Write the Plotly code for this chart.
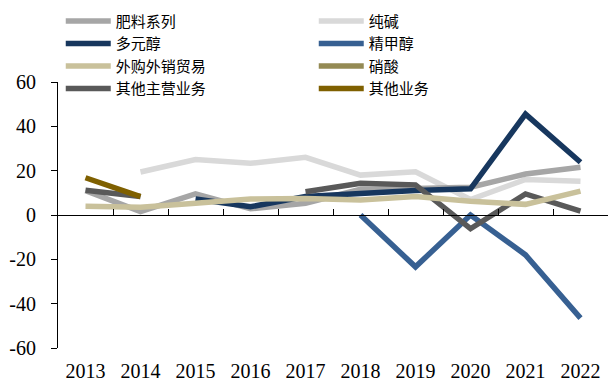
import plotly.graph_objects as go

years = ["2013", "2014", "2015", "2016", "2017", "2018", "2019", "2020", "2021", "2022"]

feiliao = [11, 1.5, 9.5, 2.8, 5.3, 11.6, 12, 12.5, 18.5, 21.5]
chunjian = [None, 19.4, 25, 23.3, 26, 18, 19.5, 7, 16, 15.2]
duoyuanchun = [None, None, 7.2, 3.7, 8.3, 9.8, 11, 11.8, 45.5, 23.8]
jingjiachun = [None, None, None, None, None, 0, -23.4, 0, -18, -46.5]
waigou = [3.9, 3.5, 5.3, 7.2, 7.5, 6.8, 8.3, 6.2, 4.8, 10.8]
xiaosuan = [None] * 10
qitazhuying = [11.2, 8.3, None, None, 10.5, 14.3, 13.6, -6.2, 9.5, 1.8]
qitayewu = [16.8, 8.3, None, None, None, None, None, None, None, None]

y_tickvals = [-60, -40, -20, 0, 20, 40, 60]
y_ticktext = ["-60", "-40", "-20", "0", "20", "40", "60"]

series = [
    ("肥料系列", feiliao, "#A6A6A6"),
    ("纯碱", chunjian, "#D9D9D9"),
    ("多元醇", duoyuanchun, "#17375E"),
    ("精甲醇", jingjiachun, "#376092"),
    ("外购外销贸易", waigou, "#C9C19B"),
    ("硝酸", xiaosuan, "#948A54"),
    ("其他主营业务", qitazhuying, "#595959"),
    ("其他业务", qitayewu, "#7F6000"),
]

draw_order = ["纯碱", "肥料系列", "精甲醇", "多元醇", "其他主营业务", "外购外销贸易", "硝酸", "其他业务"]

fig = go.Figure()
for name, vals, color in series:
    fig.add_trace(go.Scatter(
        x=years, y=vals, name=name, mode="lines",
        line=dict(color=color, width=5.5),
        connectgaps=False,
    ))

traces = list(fig.data)
for i, t in enumerate(traces):
    t.legendrank = i + 1
fig.data = tuple(sorted(traces, key=lambda t: draw_order.index(t.name)))

boundaries = [i - 0.5 for i in range(len(years) + 1)]
fig.add_trace(go.Scatter(x=[-0.5, 9.5], y=[0, 0], xaxis="x2", mode="lines",
                         line=dict(color="rgba(0,0,0,0)", width=0),
                         showlegend=False, hoverinfo="skip"))

fig.update_layout(
    width=613, height=383,
    margin=dict(l=58, r=5, t=82, b=35, autoexpand=False),
    paper_bgcolor="white", plot_bgcolor="white",
    font=dict(family="Liberation Serif, Times New Roman, Noto Sans CJK SC, serif", size=20, color="#000"),
    xaxis=dict(type="category", range=[-0.5, 9.5], showline=False, ticks="",
               showgrid=False, zeroline=False, tickfont=dict(size=20),
               ticklabelstandoff=9, automargin=False),
    xaxis2=dict(overlaying="x", anchor="free", position=0.5, range=[-0.5, 9.5],
                tickmode="array", tickvals=boundaries, showticklabels=False,
                ticks="inside", ticklen=6, tickcolor="#000", showline=True,
                linecolor="#000", linewidth=1, showgrid=False, zeroline=False,
                automargin=False),
    yaxis=dict(range=[-60, 60], tickmode="array", tickvals=y_tickvals, ticktext=y_ticktext,
               showline=True, linecolor="#000", linewidth=1,
               ticks="outside", ticklen=6, tickcolor="#000", showgrid=False,
               zeroline=False, tickfont=dict(size=20), ticklabelstandoff=11,
               automargin=False),
    legend=dict(orientation="h", x=0.005, xanchor="left", y=1.29, yanchor="top",
                entrywidth=193, entrywidthmode="pixels",
                font=dict(family="Noto Sans CJK SC, serif", size=15),
                bgcolor="rgba(0,0,0,0)", itemwidth=45),
    showlegend=True,
)

fig.write_html("out.html")
